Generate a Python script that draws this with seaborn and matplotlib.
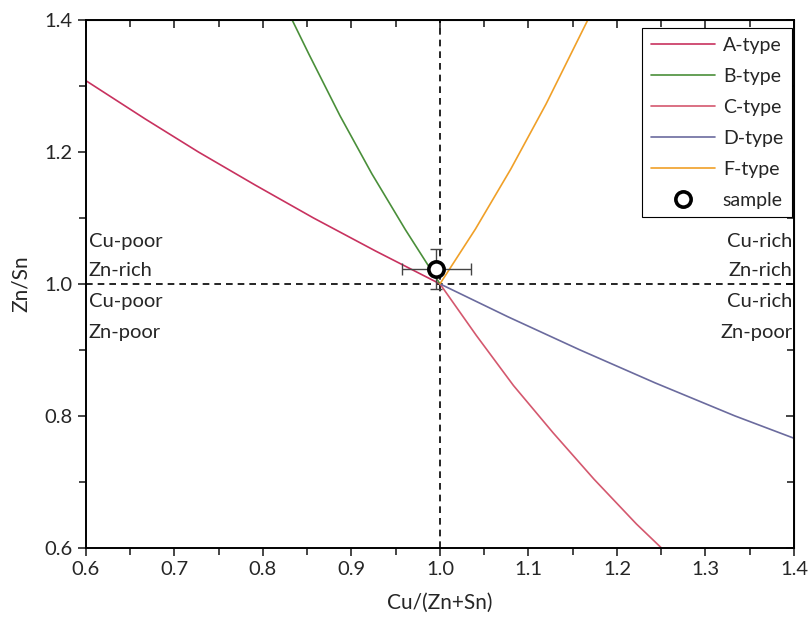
import matplotlib
matplotlib.use('Agg')
import matplotlib.pyplot as plt
import seaborn as sns
from matplotlib.ticker import MultipleLocator

# curves
a_x = [0.600, 0.667, 0.727, 0.791, 0.857, 0.927, 1.000]
a_y = [1.308, 1.250, 1.200, 1.150, 1.100, 1.050, 1.000]
b_x = [0.833, 0.852, 0.887, 0.923, 0.961, 1.000]
b_y = [1.400, 1.348, 1.255, 1.167, 1.082, 1.000]
c_x = [1.000, 1.041, 1.083, 1.128, 1.174, 1.222, 1.250]
c_y = [1.000, 0.922, 0.846, 0.774, 0.704, 0.636, 0.600]
d_x = [1.000, 1.077, 1.158, 1.243, 1.333, 1.400]
d_y = [1.000, 0.950, 0.900, 0.850, 0.800, 0.766]
f_x = [1.000, 1.040, 1.080, 1.120, 1.167]
f_y = [1.000, 1.083, 1.174, 1.273, 1.400]

sample_x = [0.996]
sample_y = [1.023]
sample_xerr = [0.039]
sample_yerr = [0.030]

curves = [
    ('A-type', a_x, a_y, '#c8325f'),
    ('B-type', b_x, b_y, '#4a8f3a'),
    ('C-type', c_x, c_y, '#d4586e'),
    ('D-type', d_x, d_y, '#6b6b9e'),
    ('F-type', f_x, f_y, '#f0a028'),
]

sns.set_style('ticks')
plt.rcParams['font.family'] = ['Lato', 'DejaVu Sans']
plt.rcParams['font.size'] = 13

fig = plt.figure(figsize=(8.11, 6.26), dpi=100)
ax = fig.add_axes([0.106, 0.125, 0.873, 0.843])

ax.axvline(1.0, color='black', ls=(0, (4, 3)), lw=1.2, zorder=1)
ax.axhline(1.0, color='black', ls=(0, (4, 3)), lw=1.2, zorder=1)

for name, xs, ys, col in curves:
    sns.lineplot(x=xs, y=ys, color=col, lw=1.2, sort=False, label=name, ax=ax)

ax.errorbar(sample_x, sample_y, xerr=sample_xerr, yerr=sample_yerr, fmt='none',
            ecolor='#444444', elinewidth=1.0, capsize=4, zorder=4)
ax.plot(sample_x, sample_y, 'o', ms=11, mfc='white', mec='black', mew=2.6,
        label='sample', zorder=5, ls='none')

ax.set_xlim(0.6, 1.4)
ax.set_ylim(0.6, 1.4)
ax.xaxis.set_major_locator(MultipleLocator(0.1))
ax.xaxis.set_minor_locator(MultipleLocator(0.05))
ax.yaxis.set_major_locator(MultipleLocator(0.2))
ax.yaxis.set_minor_locator(MultipleLocator(0.1))
ax.xaxis.set_major_formatter(plt.FormatStrFormatter('%.1f'))
ax.yaxis.set_major_formatter(plt.FormatStrFormatter('%.1f'))

ax.tick_params(which='both', direction='out', top=False, right=False, labelsize=14.5, width=1.2)
ax.tick_params(which='major', length=6)
ax.tick_params(which='minor', length=5)
for sp in ax.spines.values():
    sp.set_linewidth(1.4)
    sp.set_color('black')
# inward ticks on top and right
top = ax.secondary_xaxis('top')
top.xaxis.set_major_locator(MultipleLocator(0.1))
top.xaxis.set_minor_locator(MultipleLocator(0.05))
top.tick_params(which='both', direction='in', labeltop=False, width=1.2)
top.tick_params(which='major', length=6)
top.tick_params(which='minor', length=5)
right = ax.secondary_yaxis('right')
right.yaxis.set_major_locator(MultipleLocator(0.2))
right.yaxis.set_minor_locator(MultipleLocator(0.1))
right.tick_params(which='both', direction='in', labelright=False, width=1.2)
right.tick_params(which='major', length=6)
right.tick_params(which='minor', length=5)

ax.set_xlabel('Cu/(Zn+Sn)', fontsize=15, labelpad=11)
ax.set_ylabel('Zn/Sn', fontsize=15, labelpad=10)

fs = 14.5
ax.text(0.603, 1.065, 'Cu-poor', fontsize=fs, ha='left', va='center')
ax.text(0.603, 1.021, 'Zn-rich', fontsize=fs, ha='left', va='center')
ax.text(0.603, 0.973, 'Cu-poor', fontsize=fs, ha='left', va='center')
ax.text(0.603, 0.927, 'Zn-poor', fontsize=fs, ha='left', va='center')
ax.text(1.398, 1.065, 'Cu-rich', fontsize=fs, ha='right', va='center')
ax.text(1.398, 1.021, 'Zn-rich', fontsize=fs, ha='right', va='center')
ax.text(1.398, 0.973, 'Cu-rich', fontsize=fs, ha='right', va='center')
ax.text(1.398, 0.927, 'Zn-poor', fontsize=fs, ha='right', va='center')

leg = ax.legend(loc='upper right', bbox_to_anchor=(0.997, 0.985), fontsize=14,
                frameon=True, fancybox=False, edgecolor='black', framealpha=1,
                borderaxespad=0.0, handlelength=3.3, handletextpad=0.4,
                labelspacing=0.72, borderpad=0.45)
leg.get_frame().set_linewidth(0.8)

fig.savefig('out.png', dpi=100)
